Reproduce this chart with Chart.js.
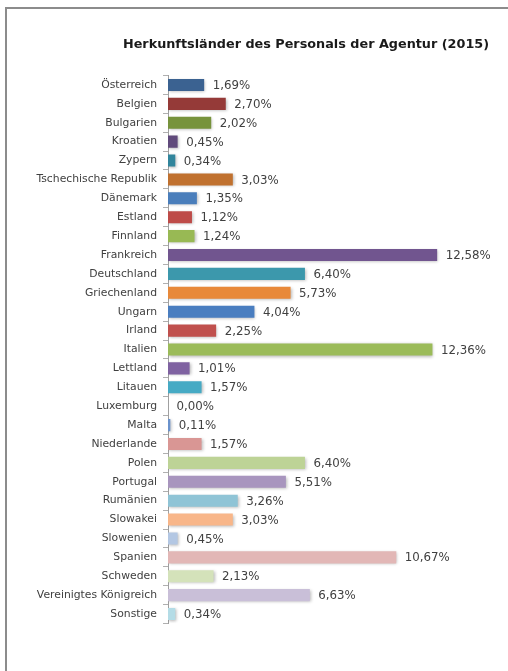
<!DOCTYPE html>
<html><head><meta charset="utf-8">
<script src="https://cdn.jsdelivr.net/npm/chart.js@4.4.0/dist/chart.umd.min.js"></script>
<style>
html,body{margin:0;padding:0;background:#fff;overflow:hidden}
#frame{position:absolute;left:5px;top:7px;width:620px;height:720px;border:2px solid #8c8c8c;box-sizing:border-box}
#wrap{position:absolute;left:0;top:0;width:508px;height:671px}
</style></head>
<body>
<div id="frame"></div>
<div id="wrap"><canvas id="c" width="508" height="671"></canvas></div>
<script>
const titleText = "Herkunftsländer des Personals der Agentur (2015)";
const categories = ["Österreich","Belgien","Bulgarien","Kroatien","Zypern","Tschechische Republik","Dänemark","Estland","Finnland","Frankreich","Deutschland","Griechenland","Ungarn","Irland","Italien","Lettland","Litauen","Luxemburg","Malta","Niederlande","Polen","Portugal","Rumänien","Slowakei","Slowenien","Spanien","Schweden","Vereinigtes Königreich","Sonstige"];
const values = [1.69,2.70,2.02,0.45,0.34,3.03,1.35,1.12,1.24,12.58,6.40,5.73,4.04,2.25,12.36,1.01,1.57,0.00,0.11,1.57,6.40,5.51,3.26,3.03,0.45,10.67,2.13,6.63,0.34];
const colors = ["#3B6291","#953A38","#77933C","#604A7B","#31859C","#C0712F","#4A7EBB","#BE4B48","#98B954","#71558F","#3C98AC","#E8893A","#4A7EC0","#C0504D","#9BBB59","#7F62A1","#46AAC4","#A6A6A6","#6A92CC","#D99694","#BDD396","#A895BE","#8FC4D6","#F8B689","#B3C7E3","#E2B7B6","#D4E2BA","#C9BFD8","#B4DCE6"];

const valueLabels = {
  id:'valueLabels',
  afterDatasetsDraw(chart){
    const ctx = chart.ctx;
    const meta = chart.getDatasetMeta(0);
    ctx.save();
    ctx.font = '11.8px "DejaVu Sans"';
    ctx.fillStyle = '#404040';
    ctx.textBaseline = 'middle';
    ctx.textAlign = 'left';
    meta.data.forEach((bar,i)=>{
      const txt = values[i].toFixed(2).replace('.',',') + '%';
      ctx.fillText(txt, bar.x + 8.5, bar.y + 1);
    });
    ctx.restore();
  }
};
const barShadow = {
  id:'barShadow',
  beforeDatasetsDraw(chart){
    const ctx = chart.ctx;
    ctx.save();
    ctx.shadowColor = 'rgba(0,0,0,0.28)';
    ctx.shadowBlur = 3;
    ctx.shadowOffsetX = 1;
    ctx.shadowOffsetY = 1;
  },
  afterDatasetsDraw(chart){
    chart.ctx.restore();
  }
};
const titlePlugin = {
  id:'titleText',
  afterDraw(chart){
    const ctx = chart.ctx;
    ctx.save();
    ctx.font = 'bold 12.8px "DejaVu Sans"';
    ctx.fillStyle = '#1a1a1a';
    ctx.textAlign = 'center';
    ctx.textBaseline = 'middle';
    ctx.fillText(titleText, chart.chartArea.left + 138, chart.chartArea.top - 31);
    ctx.restore();
  }
};

new Chart(document.getElementById('c'), {
  type:'bar',
  data:{
    labels:categories,
    datasets:[{data:values, backgroundColor:colors, borderWidth:0, categoryPercentage:1, barPercentage:0.64}]
  },
  options:{
    indexAxis:'y',
    responsive:false,
    animation:false,
    devicePixelRatio:1,
    layout:{padding:{left:0,right:64,top:75.5,bottom:47.5}},
    plugins:{
      legend:{display:false},
      tooltip:{enabled:false},
      title:{display:false}
    },
    scales:{
      x:{display:false, min:0, max:12.9},
      y:{
        afterFit(s){ s.width = 168; },
        grid:{drawOnChartArea:false, tickLength:5, color:'#b0b0b0', offset:true},
        border:{color:'#a0a0a0', width:1},
        ticks:{color:'#404040', padding:6, autoSkip:false, font:{family:'"DejaVu Sans"', size:10.8}}
      }
    }
  },
  plugins:[barShadow, valueLabels, titlePlugin]
});
</script>
</body></html>
